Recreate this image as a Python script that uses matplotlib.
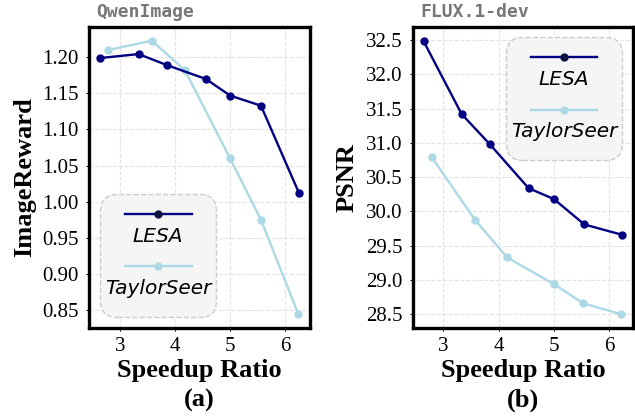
import matplotlib
matplotlib.use('Agg')
import matplotlib.pyplot as plt
from matplotlib.lines import Line2D
from matplotlib.offsetbox import AnchoredOffsetbox, VPacker, DrawingArea, TextArea

# (a) QwenImage - ImageReward
qwen_lesa_x = [2.64, 3.34, 3.86, 4.56, 5.0, 5.56, 6.25]
qwen_lesa_y = [1.199, 1.2045, 1.189, 1.170, 1.147, 1.133, 1.012]
qwen_taylor_x = [2.78, 3.58, 4.18, 5.0, 5.56, 6.24]
qwen_taylor_y = [1.210, 1.223, 1.182, 1.060, 0.975, 0.844]

# (b) FLUX.1-dev - PSNR
flux_lesa_x = [2.64, 3.33, 3.84, 4.54, 5.0, 5.55, 6.23]
flux_lesa_y = [32.485, 31.42, 30.98, 30.34, 30.18, 29.81, 29.66]
flux_taylor_x = [2.79, 3.57, 4.15, 5.0, 5.53, 6.22]
flux_taylor_y = [30.79, 29.88, 29.33, 28.94, 28.66, 28.50]

x_ticks = [3, 4, 5, 6]
qwen_yticks = [0.85, 0.90, 0.95, 1.00, 1.05, 1.10, 1.15, 1.20]
flux_yticks = [28.5, 29.0, 29.5, 30.0, 30.5, 31.0, 31.5, 32.0, 32.5]

LESA_COLOR = '#000080'
TAYLOR_COLOR = '#add8e6'
SERIF = 'Liberation Serif'

W, H = 635, 419
fig = plt.figure(figsize=(W / 100, H / 100), dpi=100)


def make_legend(ax, loc, anchor):
    entries = []
    specs = [('LESA', LESA_COLOR, '#0b1540', 16), ('TaylorSeer', TAYLOR_COLOR, TAYLOR_COLOR, 10)]
    for label, color, mec, h in specs:
        # line sits 5pt above the bottom of each drawing area
        da = DrawingArea(48, h, 0, 0)
        da.add_artist(Line2D([0, 48], [5, 5], color=color, lw=1.7))
        da.add_artist(Line2D([24], [5], color=color, marker='o', markersize=5,
                             markerfacecolor=mec, markeredgecolor=mec))
        ta = TextArea(label, textprops=dict(fontsize=14.5, style='italic', family='DejaVu Sans', color='black'))
        entries.append(VPacker(children=[da, ta], align='center', pad=0, sep=4))
    entries.append(DrawingArea(1, 0, 0, 0))
    box = VPacker(children=entries, align='center', pad=0, sep=10)
    anc = AnchoredOffsetbox(loc=loc, child=box, pad=0.15, borderpad=0.0, frameon=True,
                            bbox_to_anchor=anchor, bbox_transform=ax.transAxes)
    anc.patch.set_boxstyle('round,pad=0.2,rounding_size=1.2')
    anc.patch.set_facecolor('#f5f5f5')
    anc.patch.set_edgecolor('#cccccc')
    anc.patch.set_linestyle('--')
    anc.patch.set_linewidth(1.0)
    ax.add_artist(anc)


def draw_panel(rect, lesa_x, lesa_y, taylor_x, taylor_y, xlim, ylim, yticks, yfmt,
               title, ylabel, tag, ylabelpad):
    ax = fig.add_axes(rect)
    ax.plot(lesa_x, lesa_y, color=LESA_COLOR, lw=1.7, marker='o', markersize=5, zorder=3)
    ax.plot(taylor_x, taylor_y, color=TAYLOR_COLOR, lw=1.7, marker='o', markersize=5, zorder=2)
    ax.set_xlim(*xlim)
    ax.set_ylim(*ylim)
    ax.set_xticks(x_ticks)
    ax.set_yticks(yticks)
    ax.set_yticklabels([yfmt % v for v in yticks])
    ax.grid(True, linestyle='--', color='#e3e3e3', linewidth=0.8)
    ax.set_axisbelow(True)
    for s in ax.spines.values():
        s.set_linewidth(2.4)
        s.set_color('black')
    ax.tick_params(axis='both', length=2.5, width=0.7, direction='out', labelsize=15)
    ax.tick_params(axis='y', pad=5)
    ax.tick_params(axis='x', pad=4)
    for lab in ax.get_xticklabels() + ax.get_yticklabels():
        lab.set_family(SERIF)
    ax.set_title(title, loc='left', x=0.035, pad=7, fontsize=13, fontweight='bold',
                 color='#777777', family='DejaVu Sans Mono')
    ax.set_xlabel('Speedup Ratio\n' + tag, fontsize=19, fontweight='bold',
                  family=SERIF, linespacing=1.4, labelpad=2)
    ax.set_ylabel(ylabel, fontsize=19, fontweight='bold', family=SERIF, labelpad=ylabelpad)
    return ax


ax1 = draw_panel([89 / W, 91 / H, 221 / W, 301 / H],
                 qwen_lesa_x, qwen_lesa_y, qwen_taylor_x, qwen_taylor_y,
                 (2.44, 6.45), (0.825, 1.242), qwen_yticks, '%.2f',
                 'QwenImage', 'ImageReward', '(a)', 4)
ax2 = draw_panel([413 / W, 91 / H, 220 / W, 301 / H],
                 flux_lesa_x, flux_lesa_y, flux_taylor_x, flux_taylor_y,
                 (2.45, 6.43), (28.30, 32.69), flux_yticks, '%.1f',
                 'FLUX.1-dev', 'PSNR', '(b)', 5)

make_legend(ax1, 'lower left', (0.063, 0.047))
make_legend(ax2, 'upper right', (0.937, 0.957))

fig.savefig('out.png', dpi=100)
